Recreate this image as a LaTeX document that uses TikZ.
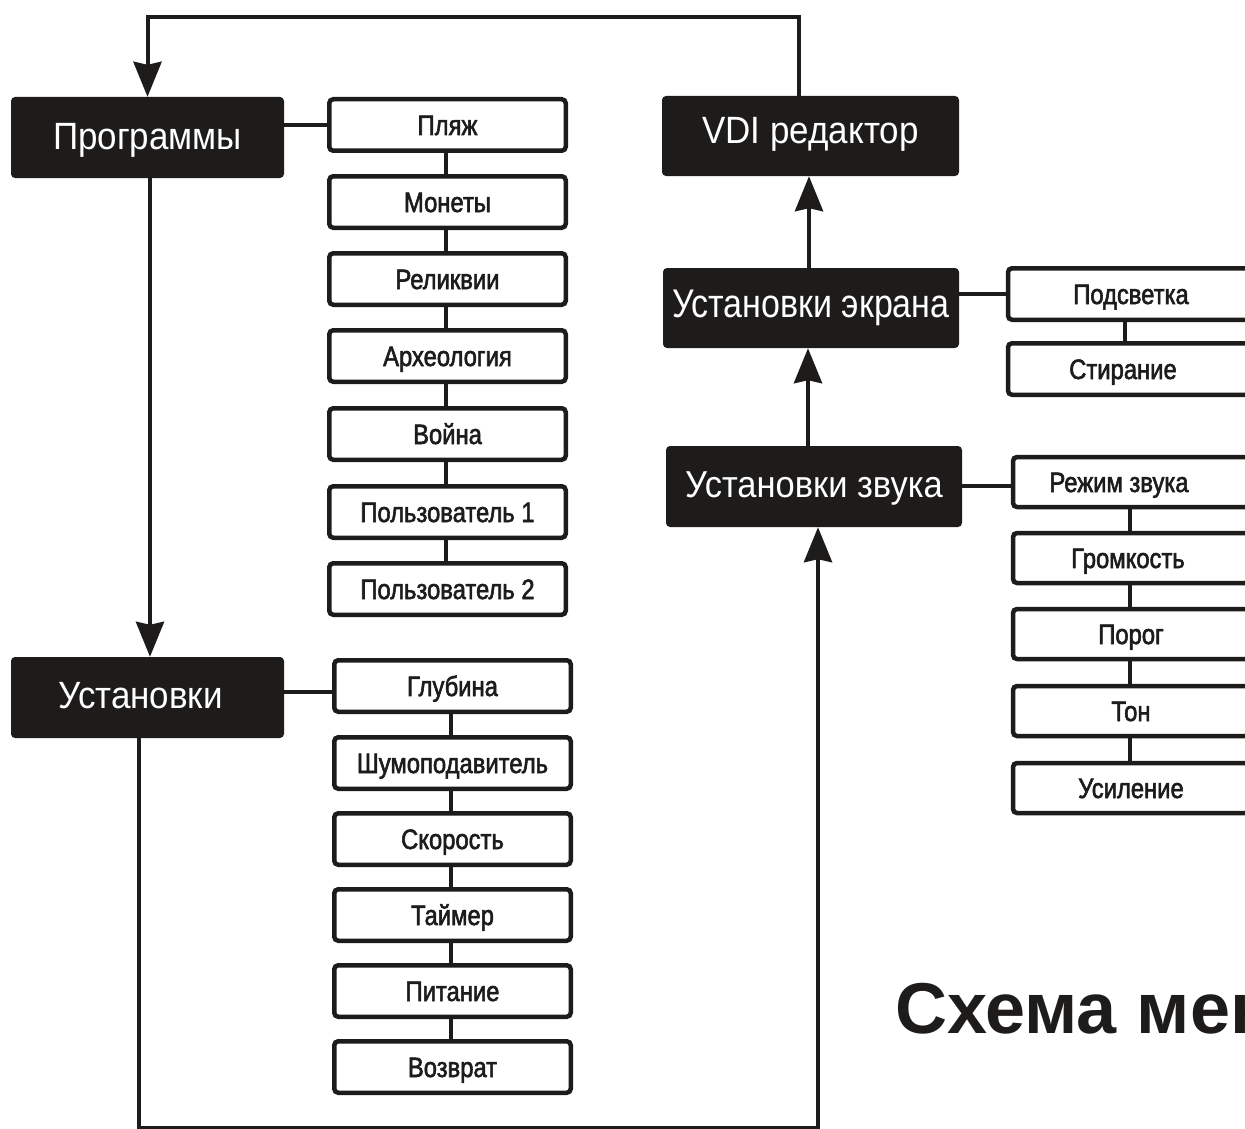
\documentclass[tikz,border=0pt]{standalone}
\usepackage{fontspec}
\usetikzlibrary{arrows.meta}
\newfontfamily\bigfont[FakeStretch=0.92]{Liberation Sans}
\newfontfamily\bigfontb[FakeStretch=0.85]{Liberation Sans}
\newfontfamily\smallfont[FakeStretch=0.85, FakeBold=2]{Liberation Sans}
\newfontfamily\ttlfont{Liberation Sans}
\definecolor{ink}{RGB}{30,27,27}
\tikzset{
  mainbox/.style={fill=ink, draw=none, rounded corners=4pt, text=white,
    font=\bigfont\fontsize{38}{40}\selectfont, inner sep=0pt,
    text height=27pt, text depth=6pt, minimum height=81pt},
  itembox/.style={fill=white, draw=ink, line width=4.5pt, rounded corners=4pt,
    text=ink, font=\smallfont\fontsize{28}{30}\selectfont, inner sep=0pt,
    text height=20pt, text depth=0pt, minimum width=236.5pt, minimum height=51.5pt},
  link/.style={draw=ink, line width=4pt},
  arr/.style={draw=ink, line width=4pt, -{Stealth[length=35pt, width=28pt, inset=3pt]}}
}
\begin{document}
\begin{tikzpicture}[x=1pt, y=-1pt]
\clip (0,0) rectangle (1245,1129);
\useasboundingbox (0,0) rectangle (1245,1129);

% main boxes
\node[mainbox, minimum width=273pt, text depth=3pt] (prog) at (147.5,137.5) {Программы};
\node[mainbox, minimum width=273pt] (ust) at (147.5,697.5) {\hspace*{-14pt}Установки};
\node[mainbox, minimum width=297pt, minimum height=80pt, text depth=11pt] (vdi) at (810.5,136) {VDI редактор};
\node[mainbox, minimum width=296pt, minimum height=80pt, text height=29pt, text depth=11pt,
  font=\bigfontb\fontsize{40}{42}\selectfont] (ekr) at (811,308) {Установки экрана};
\node[mainbox, minimum width=296pt, font=\bigfont\fontsize{37.5}{40}\selectfont] (zvuk) at (814,486.5) {Установки звука};

% column 1: programs
\node[itembox] (p1) at (447.5,125) {Пляж};
\node[itembox] (p2) at (447.5,202) {Монеты};
\node[itembox] (p3) at (447.5,279) {Реликвии};
\node[itembox] (p4) at (447.5,356) {Археология};
\node[itembox] (p5) at (447.5,434) {Война};
\node[itembox] (p6) at (447.5,512) {Пользователь 1};
\node[itembox] (p7) at (447.5,589) {Пользователь 2};

% column 2: settings
\node[itembox] (s1) at (452.5,686) {Глубина};
\node[itembox] (s2) at (452.5,763) {Шумоподавитель};
\node[itembox] (s3) at (452.5,839) {Скорость};
\node[itembox] (s4) at (452.5,915) {Таймер};
\node[itembox] (s5) at (452.5,991) {Питание};
\node[itembox] (s6) at (452.5,1067) {Возврат};

% column 3: screen
\node[itembox, minimum width=246pt] (e1) at (1131,294) {Подсветка};
\node[itembox, minimum width=246pt] (e2) at (1131,369) {\hspace*{-16pt}Стирание};

% column 4: sound
\node[itembox, minimum width=236pt, minimum height=50pt] (z1) at (1131,482) {\hspace*{-24pt}Режим звука};
\node[itembox, minimum width=236pt, minimum height=50pt] (z2) at (1131,558) {\hspace*{-6pt}Громкость};
\node[itembox, minimum width=236pt, minimum height=50pt] (z3) at (1131,634) {Порог};
\node[itembox, minimum width=236pt, minimum height=50pt] (z4) at (1131,711) {Тон};
\node[itembox, minimum width=236pt, minimum height=50pt] (z5) at (1131,788) {Усиление};

% title
\node[anchor=base west, inner sep=0pt, text=ink, font=\ttlfont\bfseries\fontsize{72}{74}\selectfont] (title) at (895,1033) {Схема меню};

% side links
\draw[link] (prog.east |- p1.west) -- (p1.west);
\draw[link] ([yshift=-6pt]ust.east |- s1.west) -- ([yshift=-6pt]s1.west);
\draw[link] (ekr.east |- e1.west) -- (e1.west);
\draw[link] ([yshift=-4pt]zvuk.east |- z1.west) -- ([yshift=-4pt]z1.west);

% column chains
\foreach \a/\b in {p1/p2,p2/p3,p3/p4,p4/p5,p5/p6,p6/p7} \draw[link] ([xshift=-1.5pt]\a.south) -- ([xshift=-1.5pt]\b.north);
\foreach \a/\b in {s1/s2,s2/s3,s3/s4,s4/s5,s5/s6} \draw[link] ([xshift=-2pt]\a.south) -- ([xshift=-2pt]\b.north);
\draw[link] ([xshift=-6pt]e1.south) -- ([xshift=-6pt]e2.north);
\foreach \a/\b in {z1/z2,z2/z3,z3/z4,z4/z5} \draw[link] ([xshift=-1pt]\a.south) -- ([xshift=-1pt]\b.north);

% flow arrows
\coordinate (topR) at (799,17);
\coordinate (topL) at (147.5,17);
\draw[arr] ([xshift=-11.5pt]vdi.north) -- (topR) -- (topL) -- (prog.north);
\draw[arr] ([xshift=2.5pt]prog.south) -- ([xshift=2.5pt]ust.north);
\coordinate (botL) at (139,1128);
\coordinate (botR) at (818,1128);
\draw[arr] ([xshift=-8.5pt]ust.south) -- (botL) -- (botR) -- ([xshift=4pt]zvuk.south);
\draw[arr] ([xshift=-3pt]zvuk.north -| ekr.south) -- ([xshift=-3pt]ekr.south);
\draw[arr] ([xshift=-2pt]ekr.north) -- ([xshift=-2pt]vdi.south -| ekr.north);
\end{tikzpicture}
\end{document}
